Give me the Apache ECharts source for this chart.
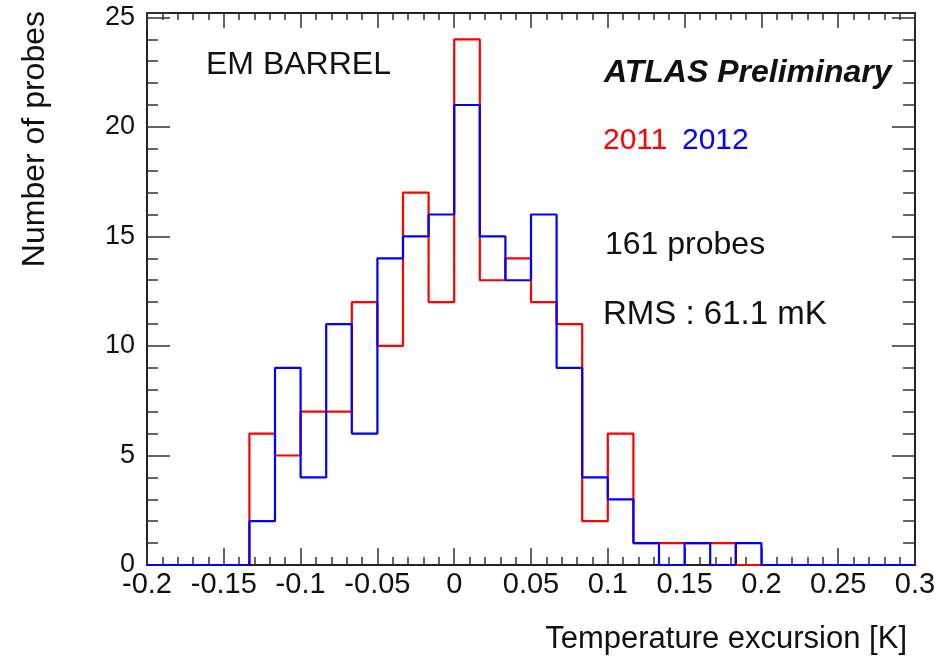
<!DOCTYPE html>
<html>
<head>
<meta charset="utf-8">
<script src="https://cdn.jsdelivr.net/npm/echarts@6/dist/echarts.min.js"></script>
<style>
html,body{margin:0;padding:0;background:#fff;}
#chart{width:952px;height:662px;}
</style>
</head>
<body>
<div id="chart"></div>
<script>
// Histogram: 30 bins of width 1/60 K from -0.2 to 0.3
var xMin = -0.2;
var xMax = 0.3;
var nBins = 30;
var counts2011 = [0,0,0,0,6,5,7,7,12,10,17,12,24,13,14,12,11,2,6,1,1,1,1,0,0,0,0,0,0,0];
var counts2012 = [0,0,0,0,2,9,4,11,6,14,15,16,21,15,13,16,9,4,3,1,0,1,0,1,0,0,0,0,0,0];
var xTickLabels = ['-0.2','-0.15','-0.1','-0.05','0','0.05','0.1','0.15','0.2','0.25','0.3'];
var yTickLabels = ['0','5','10','15','20','25'];
var yMax = 25.2;

function stepPoints(counts) {
  var w = (xMax - xMin) / nBins;
  var pts = [];
  for (var i = 0; i < counts.length; i++) {
    pts.push([xMin + i * w, counts[i]]);
  }
  pts.push([xMax, counts[counts.length - 1]]);
  return pts;
}

var FONT = "'Liberation Sans', Arial, Helvetica, sans-serif";
var chart = echarts.init(document.getElementById('chart'), null, {renderer: 'canvas'});

function xLabel(v) {
  var idx = Math.round((v - xMin) / 0.05);
  return xTickLabels[idx] !== undefined ? xTickLabels[idx] : '';
}
function yLabel(v) {
  var idx = Math.round(v / 5);
  return yTickLabels[idx] !== undefined ? yTickLabels[idx] : '';
}

var axisLineStyle = {color: '#222', width: 2};
var tickStyle = {color: '#333', width: 1.5};

var option = {
  animation: false,
  backgroundColor: '#fff',
  grid: {left: 147, right: 37, top: 13, bottom: 97, show: false},
  xAxis: [
    {
      type: 'value', min: xMin, max: xMax, interval: 0.05, position: 'bottom',
      axisLine: {show: true, onZero: false, lineStyle: axisLineStyle},
      axisTick: {show: true, inside: true, length: 17, lineStyle: tickStyle},
      minorTick: {show: true, splitNumber: 5, length: 8, lineStyle: tickStyle},
      splitLine: {show: false},
      axisLabel: {formatter: xLabel, color: '#111', fontSize: 29, fontFamily: FONT, margin: 5, showMinLabel: true, showMaxLabel: true}
    },
    {
      type: 'value', min: xMin, max: xMax, interval: 0.05, position: 'top',
      axisLine: {show: true, onZero: false, lineStyle: axisLineStyle},
      axisTick: {show: true, inside: true, length: 15, lineStyle: tickStyle},
      minorTick: {show: true, splitNumber: 5, length: 7, lineStyle: tickStyle},
      splitLine: {show: false},
      axisLabel: {show: false}
    }
  ],
  yAxis: [
    {
      type: 'value', min: 0, max: yMax, interval: 5, position: 'left',
      axisLine: {show: true, onZero: false, lineStyle: axisLineStyle},
      axisTick: {show: true, inside: true, length: 23, lineStyle: tickStyle},
      minorTick: {show: true, splitNumber: 5, length: 11, lineStyle: tickStyle},
      splitLine: {show: false},
      axisLabel: {formatter: yLabel, color: '#111', fontSize: 27, fontFamily: FONT, margin: 12, showMaxLabel: false}
    },
    {
      type: 'value', min: 0, max: yMax, interval: 5, position: 'right',
      axisLine: {show: true, onZero: false, lineStyle: axisLineStyle},
      axisTick: {show: true, inside: true, length: 23, lineStyle: tickStyle},
      minorTick: {show: true, splitNumber: 5, length: 12, lineStyle: tickStyle},
      splitLine: {show: false},
      axisLabel: {show: false}
    }
  ],
  series: [
    {
      name: '2011', type: 'line', step: 'end', xAxisIndex: 0, yAxisIndex: 0,
      data: stepPoints(counts2011), showSymbol: false, symbol: 'none',
      lineStyle: {color: '#ff0000', width: 2.2}, z: 3
    },
    {
      name: '2012', type: 'line', step: 'end', xAxisIndex: 0, yAxisIndex: 0,
      data: stepPoints(counts2012), showSymbol: false, symbol: 'none',
      lineStyle: {color: '#0000ff', width: 2.2}, z: 4
    }
  ],
  graphic: [
    {type: 'text', x: 206, y: 65, style: {text: 'EM BARREL', font: 'normal 32px ' + FONT, fill: '#111', textAlign: 'left', textVerticalAlign: 'middle'}},
    {type: 'text', x: 604, y: 73, style: {text: 'ATLAS Preliminary', font: 'italic bold 32px ' + FONT, fill: '#111', textAlign: 'left', textVerticalAlign: 'middle'}},
    {type: 'text', x: 603, y: 141, style: {text: '2011', font: 'normal 30px ' + FONT, fill: '#ff0000', textAlign: 'left', textVerticalAlign: 'middle'}},
    {type: 'text', x: 682, y: 141, style: {text: '2012', font: 'normal 30px ' + FONT, fill: '#0000ff', textAlign: 'left', textVerticalAlign: 'middle'}},
    {type: 'text', x: 605, y: 245, style: {text: '161 probes', font: 'normal 32px ' + FONT, fill: '#111', textAlign: 'left', textVerticalAlign: 'middle'}},
    {type: 'text', x: 603, y: 315, style: {text: 'RMS : 61.1 mK', font: 'normal 33px ' + FONT, fill: '#111', textAlign: 'left', textVerticalAlign: 'middle'}},
    {type: 'text', x: 907, y: 639, style: {text: 'Temperature excursion [K]', font: 'normal 31px ' + FONT, fill: '#111', textAlign: 'right', textVerticalAlign: 'middle'}},
    {type: 'text', x: 35, y: 11, rotation: Math.PI / 2, style: {text: 'Number of probes', font: 'normal 32px ' + FONT, fill: '#111', textAlign: 'right', textVerticalAlign: 'middle'}}
  ]
};
chart.setOption(option);
</script>
</body>
</html>
